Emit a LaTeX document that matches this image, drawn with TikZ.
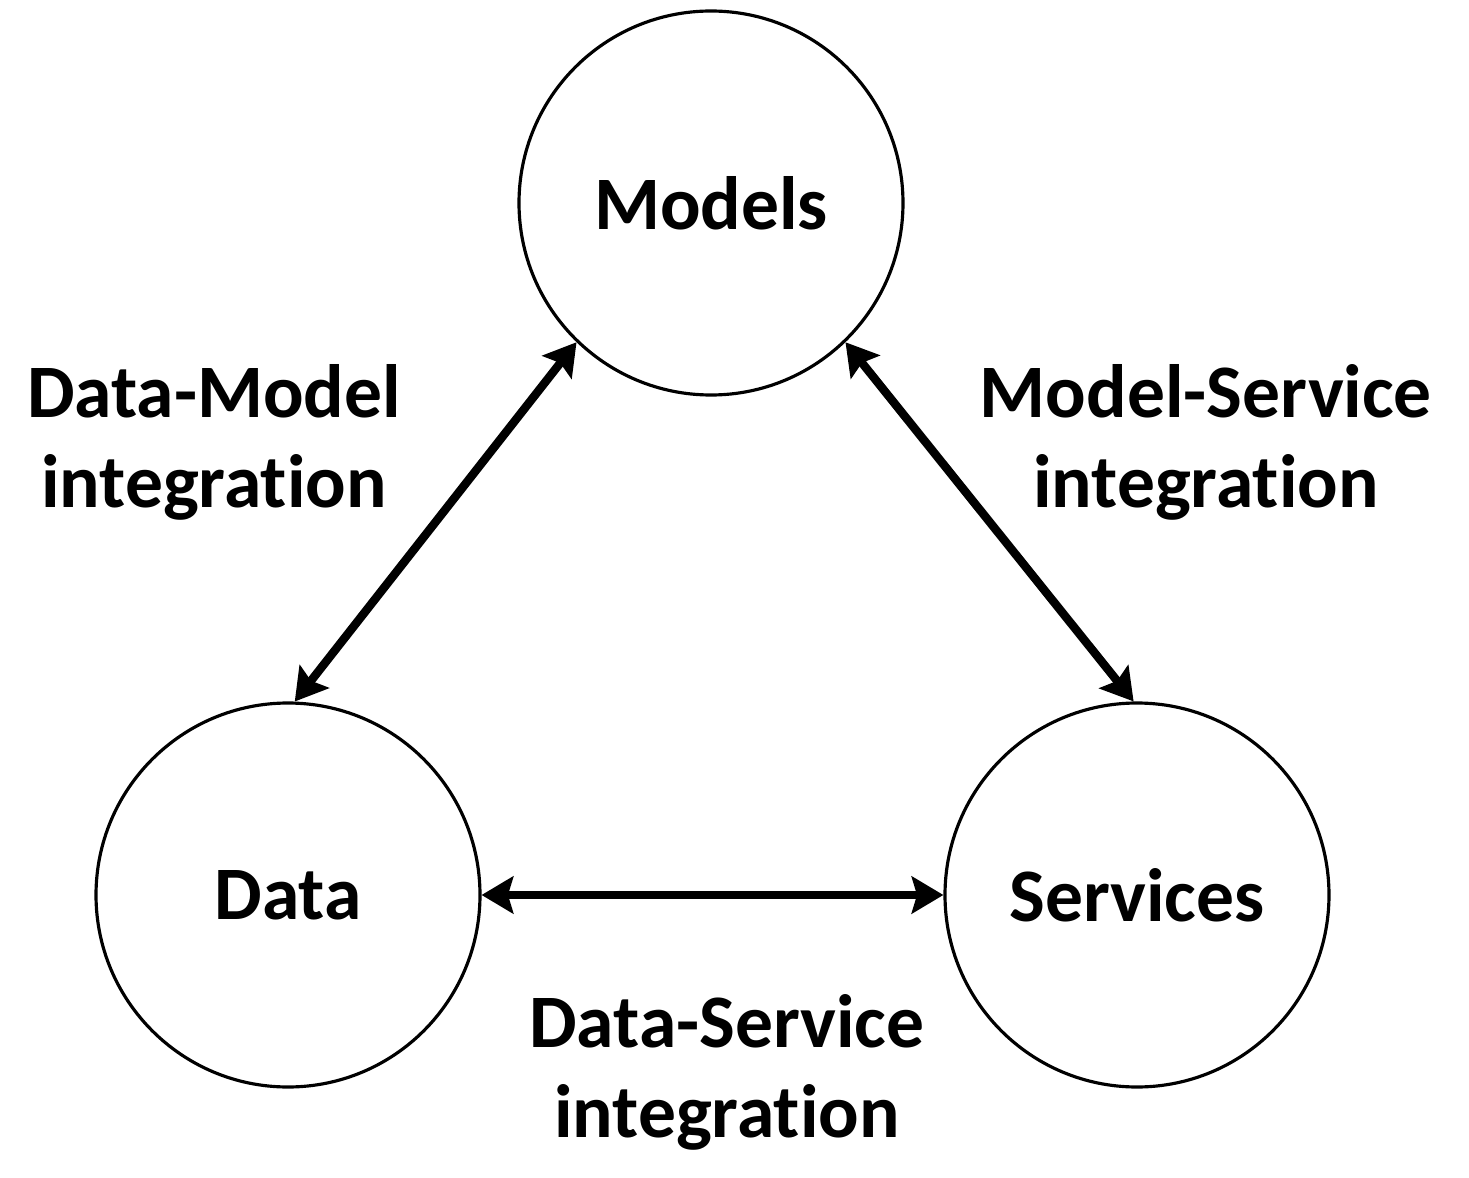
\documentclass[tikz,border=0pt]{standalone}
\usepackage{fontspec}
\setmainfont[Ligatures=NoCommon]{Carlito}
\usetikzlibrary{arrows.meta}
\tikzset{
  part/.style={
    circle, draw=black, line width=0.9pt, minimum size=3.84cm,
    inner sep=0pt, font=\fontsize{21.5}{25.6}\selectfont\bfseries
  },
  link/.style={{Stealth[length=9pt,width=10.5pt,inset=1.5pt]}-{Stealth[length=9pt,width=10.5pt,inset=1.5pt]}, line width=2.4pt},
  lbl/.style={align=center, font=\fontsize{21.5}{25.6}\selectfont\bfseries}
}
\begin{document}
\begin{tikzpicture}
  \useasboundingbox (0,0) rectangle (14.69,-11.78);

  \node[part] (models) at (7.11,-2.03) {Models};
  \node[part] (data) at (2.88,-8.95) {Data};
  \node[part] (services) at (11.37,-8.95) {Services};

  \node[lbl] (dmlbl) at (2.14,-4.42) {Data-Model\\integration};
  \node[lbl] (mslbl) at (12.06,-4.42) {Model-Service\\integration};
  \node[lbl] (dslbl) at (7.27,-10.72) {Data-Service\\integration};

  \draw[link] (data.88) -- (models.226);
  \draw[link] (models.314) -- (services.91);
  \draw[link] (data.east) -- (services.west);
\end{tikzpicture}
\end{document}
